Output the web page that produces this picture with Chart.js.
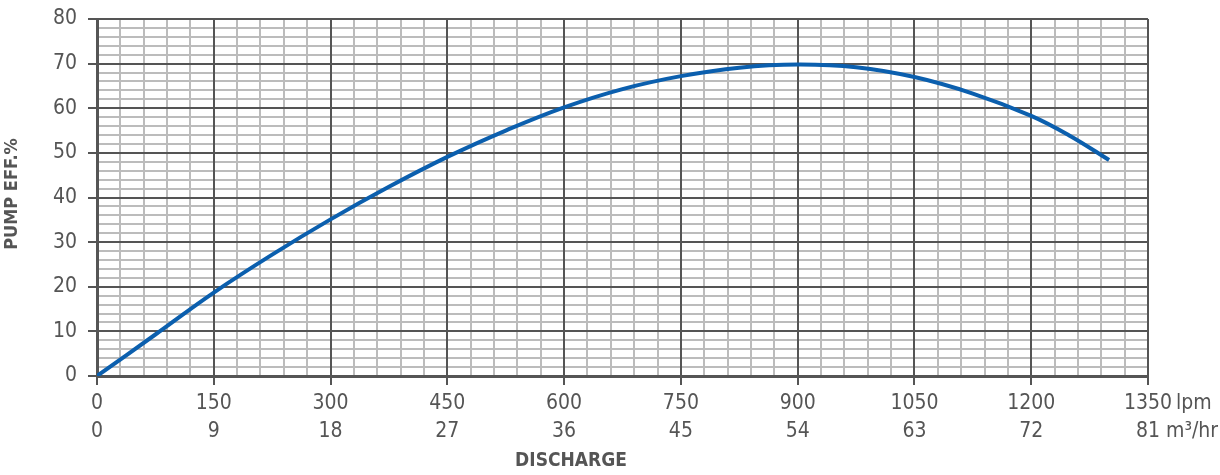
<!DOCTYPE html>
<html>
<head>
<meta charset="utf-8">
<script src="https://cdn.jsdelivr.net/npm/chart.js@4.4.1/dist/chart.umd.min.js"></script>
<style>
  html, body { margin: 0; padding: 0; background: #fff; }
  #wrap { width: 1220px; height: 475px; position: relative; }
</style>
</head>
<body>
<div id="wrap"><canvas id="c" width="1220" height="475"></canvas></div>
<script>
// ---- data ----
const lpmTicks = [0, 150, 300, 450, 600, 750, 900, 1050, 1200, 1350];
const m3Ticks = [0, 9, 18, 27, 36, 45, 54, 63, 72, 81];
const discharge = [0, 75, 150, 225, 300, 375, 450, 525, 600, 675, 750, 825, 900, 975, 1050, 1125, 1200, 1250, 1300];
const efficiency = [0, 9.3, 18.7, 27.2, 35.1, 42.4, 49.1, 55.0, 60.2, 64.3, 67.2, 69.1, 69.8, 69.2, 67.0, 63.3, 58.3, 53.8, 48.4];
const xTitle = 'DISCHARGE';
const yTitle = 'PUMP EFF.%';
const lpmUnit = 'lpm';
const m3Unit = 'm\u00B3/hr';

const FONT = "'Liberation Sans Narrow', 'DejaVu Sans Condensed', 'Arial Narrow', sans-serif";
const TXT = '#555555';
const MAJOR = '#555555';
const MINOR = '#bcbcbc';
const TICK_SIZE = 21;

const extras = {
  id: 'extras',
  afterDraw(chart) {
    const ctx = chart.ctx;
    const xs = chart.scales.x;
    ctx.save();
    ctx.fillStyle = TXT;
    ctx.font = TICK_SIZE + 'px ' + FONT;
    ctx.textBaseline = 'middle';
    ctx.textAlign = 'left';
    const last = lpmTicks.length - 1;
    const px = xs.getPixelForValue(lpmTicks[last]);
    const w1 = ctx.measureText(String(lpmTicks[last])).width;
    const w2 = ctx.measureText(String(m3Ticks[last])).width;
    const y1 = xs.top + 9 + 5 + 14;
    ctx.fillText(lpmUnit, px + w1 / 2 + 4, y1);
    ctx.fillText(m3Unit, px + w2 / 2 + 6, y1 + 28);
    ctx.font = 'bold 19px ' + FONT;
    ctx.textAlign = 'center';
    ctx.fillText(xTitle, 571, 461);
    ctx.translate(12, 194);
    ctx.rotate(-Math.PI / 2);
    ctx.font = 'bold 18px ' + FONT;
    ctx.fillText(yTitle, 0, 0);
    ctx.restore();
  }
};

new Chart(document.getElementById('c'), {
  type: 'line',
  data: {
    datasets: [{
      data: discharge.map((x, i) => ({ x: x, y: efficiency[i] })),
      borderColor: '#0b5fae',
      borderWidth: 4,
      pointRadius: 0,
      fill: false,
      tension: 0.4
    }]
  },
  options: {
    responsive: false,
    animation: false,
    events: [],
    layout: { padding: { left: 0, right: 72, top: 19, bottom: 0 } },
    plugins: { legend: { display: false }, tooltip: { enabled: false } },
    scales: {
      xMinor: {
        type: 'linear', position: 'top', min: 0, max: 1350, z: -1,
        ticks: { display: false, stepSize: 30, autoSkip: false },
        grid: { color: MINOR, lineWidth: 2, drawTicks: false },
        border: { display: false },
        afterFit: s => { s.height = 0; s.paddingLeft = 0; s.paddingRight = 0; }
      },
      yMinor: {
        type: 'linear', position: 'right', min: 0, max: 80, z: -1,
        ticks: { display: false, stepSize: 2, autoSkip: false },
        grid: { color: MINOR, lineWidth: 2, drawTicks: false },
        border: { display: false },
        afterFit: s => { s.width = 0; s.paddingTop = 0; s.paddingBottom = 0; }
      },
      x: {
        type: 'linear', position: 'bottom', min: 0, max: 1350,
        ticks: {
          stepSize: 150, autoSkip: false, maxRotation: 0, padding: 5,
          color: TXT, font: { family: FONT, size: TICK_SIZE, lineHeight: 28 / TICK_SIZE },
          callback: (v, i) => [String(lpmTicks[i]), String(m3Ticks[i])]
        },
        grid: { color: MAJOR, lineWidth: 2, tickLength: 9, tickColor: MAJOR },
        border: { color: MAJOR, width: 3 },
        afterFit: s => { s.height = 475 - 376; s.paddingLeft = 0; s.paddingRight = 0; }
      },
      y: {
        type: 'linear', position: 'left', min: 0, max: 80,
        ticks: {
          stepSize: 10, autoSkip: false, padding: 11,
          color: TXT, font: { family: FONT, size: TICK_SIZE }
        },
        grid: { color: MAJOR, lineWidth: 2, tickLength: 9, tickColor: MAJOR },
        border: { color: MAJOR, width: 3 },
        afterFit: s => { s.width = 97; s.paddingTop = 0; s.paddingBottom = 0; }
      }
    }
  },
  plugins: [extras]
});
</script>
</body>
</html>
